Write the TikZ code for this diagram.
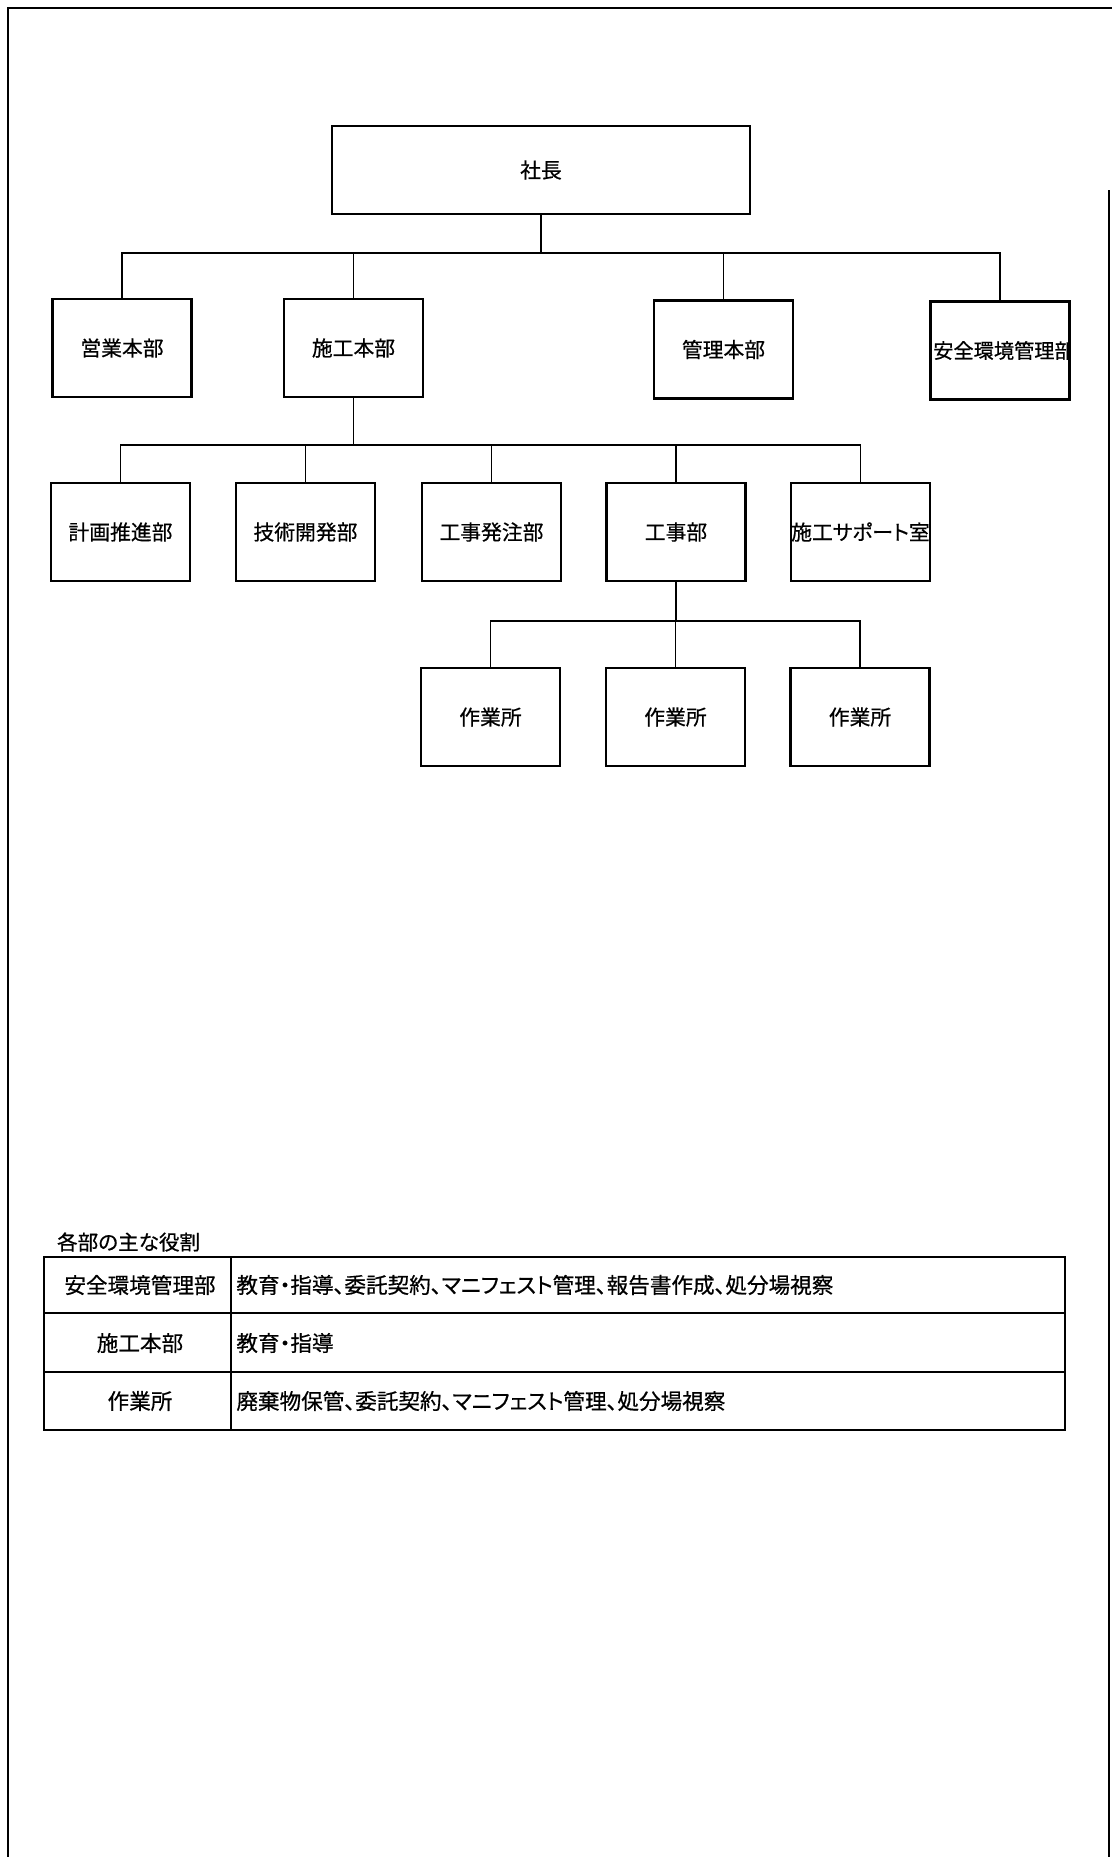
\documentclass[tikz,border=0pt]{standalone}
\usepackage{fontspec}
\setmainfont{Noto Sans CJK JP}[RawFeature=+palt,FakeBold=0.6]
\tikzset{
  unit/.style={draw,line width=1.1pt,minimum width=69.5pt,minimum height=49pt,
    inner sep=0pt,font=\fontsize{10.4pt}{12pt}\selectfont},
  cell/.style={inner sep=0pt,font=\fontsize{10.8pt}{12pt}\selectfont}
}
\begin{document}
\begin{tikzpicture}[x=0.5pt,y=-0.5pt]
  \useasboundingbox (0,0) rectangle (1112,1857);
  % page frame
  \draw[line width=1pt] (8,1857) -- (8,8) -- (1112,8);
  \draw[line width=0.8pt] (1109,190) -- (1109,1857);
  % org chart
  \draw
    (541,170) node[unit,minimum width=209pt,minimum height=44pt] (pres){社長}
    (122,348) node[unit] (eigyo){営業本部}
    (353.5,348) node[unit] (sekou){施工本部}
    (723.5,349.5) node[unit] (kanri){管理本部}
    (1000,350.5) node[unit] (anzen){}
    (120.5,532) node[unit] (keikaku){計画推進部}
    (305.5,532) node[unit] (gijutsu){技術開発部}
    (491.5,532) node[unit] (hacchu){工事発注部}
    (676,532) node[unit] (kouji){工事部}
    (860.5,532) node[unit] (support){施工サポート室}
    (490.5,717) node[unit] (sagyo1){作業所}
    (675.5,717) node[unit] (sagyo2){作業所}
    (860,717) node[unit] (sagyo3){作業所};
  \begin{scope}
    \clip (anzen.south west) rectangle (anzen.north east);
    \node[font=\fontsize{10.1pt}{12pt}\selectfont] (anzentext) at (1004,350.5) {安全環境管理部};
  \end{scope}
  \coordinate (bus0) at (541,253);
  \coordinate (bus1) at (353.5,445);
  \coordinate (bus2) at (676,621);
  \begin{scope}[line width=0.7pt]
    \draw (pres) -- (bus0);
    \draw (bus0) -| (eigyo);
    \draw (bus0) -| (sekou);
    \draw (bus0) -| (kanri);
    \draw (bus0) -| (anzen);
    \draw (sekou) -- (bus1);
    \draw (bus1) -| (keikaku);
    \draw (bus1) -| (gijutsu);
    \draw (bus1) -| (hacchu);
    \draw (bus1) -| (kouji);
    \draw (bus1) -| (support);
    \draw (kouji) -- (bus2);
    \draw (bus2) -| (sagyo1);
    \draw (bus2) -| (sagyo2);
    \draw (bus2) -| (sagyo3);
  \end{scope}
  % roles table
  \node[anchor=west,font=\fontsize{10.3pt}{12pt}\selectfont] (caption) at (50,1242) {各部の主な役割};
  \draw[line width=1.1pt] (44,1257) rectangle (1065,1430);
  \draw[line width=0.8pt] (44,1313) -- (1065,1313) (44,1372) -- (1065,1372) (231,1257) -- (231,1430);
  \node[cell] (dept1) at (140,1285) {安全環境管理部};
  \node[cell] (dept2) at (140,1343) {施工本部};
  \node[cell] (dept3) at (140,1401) {作業所};
  \node[cell,anchor=west] (role1) at (236,1285) {教育・指導、委託契約、マニフェスト管理、報告書作成、処分場視察};
  \node[cell,anchor=west] (role2) at (236,1343) {教育・指導};
  \node[cell,anchor=west] (role3) at (236,1401) {廃棄物保管、委託契約、マニフェスト管理、処分場視察};
\end{tikzpicture}
\end{document}
